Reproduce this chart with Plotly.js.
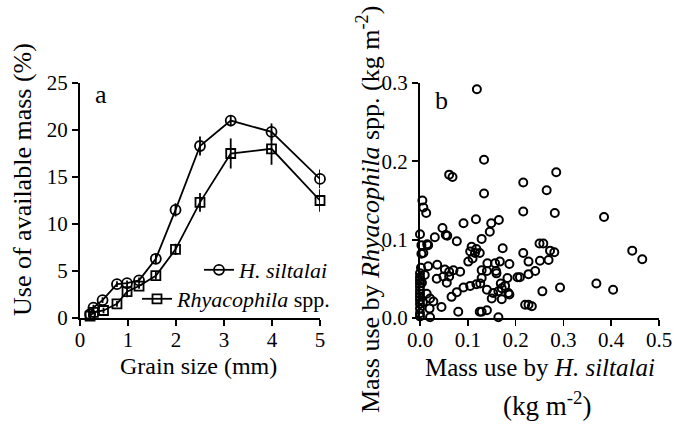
<!DOCTYPE html>
<html>
<head>
<meta charset="utf-8">
<script src="https://cdn.plot.ly/plotly-3.0.1.min.js"></script>
<style>html,body{margin:0;padding:0;background:#fff;}#chart{width:690px;height:425px;}</style>
</head>
<body>
<div id="chart"></div>
<script>
// Panel a: use of available mass (%) vs grain size (mm)
const grainH = [0.21, 0.28, 0.47, 0.77, 0.98, 1.23, 1.58, 1.99, 2.50, 3.14, 3.99, 5.00];
const useH   = [0.4, 1.1, 1.9, 3.6, 3.7, 4.0, 6.3, 11.5, 18.3, 21.0, 19.8, 14.8];
const errH   = [0.3, 0.3, 0.3, 0.3, 0.3, 0.3, 0.5, 0.7, 1.0, 0.6, 0.9, 1.0];
const grainR = [0.21, 0.28, 0.49, 0.77, 0.98, 1.23, 1.58, 1.99, 2.50, 3.14, 3.99, 5.00];
const useR   = [0.2, 0.6, 0.8, 1.5, 2.8, 3.4, 4.5, 7.3, 12.3, 17.5, 18.0, 12.5];
const errR   = [0.2, 0.2, 0.3, 0.3, 0.6, 0.3, 0.4, 0.6, 1.0, 1.6, 1.7, 1.2];

// Panel b: mass use by H. siltalai (x) vs by Rhyacophila spp. (y), kg m-2
const massH = [
  0.119,0.134,0.061,0.068,0.134,0.216,0.285,0.265,0.005,0.007,0.013,0.216,0.282,0.385,0.091,0.117,0.149,0.165,0.047,0.054,0.000,0.146,0.031,0.015,0.007,0.077,0.129,0.003,0.017,0.057,
  0.108,0.105,0.115,0.110,0.101,0.118,0.125,0.129,
  0.173,0.216,0.250,0.258,0.272,0.281,0.444,0.465,0.167,0.187,0.227,0.251,0.269,0.241,0.227,0.204,0.209,0.183,0.141,0.157,0.140,0.159,0.160,0.129,0.126,0.169,0.178,0.171,0.164,0.153,0.150,0.185,0.140,0.187,0.171,0.256,0.293,0.369,0.404,0.220,0.227,0.234,0.140,0.129,0.164,
  0.017,0.036,0.052,0.061,0.070,0.084,0.049,0.061,0.035,0.056,0.118,0.105,0.091,0.077,0.066,0.014,0.021,0.028,0.020,0.021,0.045,0.080,0.125,
  0.000,0.000,0.000,0.000,0.000,0.000,0.000,0.000,0.000,0.000,0.000,0.000,0.000,0.002,0.004,0.006,0.003,0.010
];
const massR = [
  0.292,0.202,0.183,0.180,0.159,0.173,0.186,0.163,0.150,0.141,0.134,0.136,0.134,0.129,0.121,0.126,0.121,0.125,0.115,0.106,0.107,0.110,0.103,0.094,0.083,0.098,0.101,0.093,0.093,0.105,
  0.091,0.085,0.083,0.076,0.072,0.088,0.083,0.061,
  0.089,0.083,0.095,0.095,0.086,0.084,0.086,0.075,0.072,0.069,0.072,0.073,0.074,0.060,0.056,0.052,0.052,0.051,0.070,0.070,0.060,0.060,0.057,0.051,0.044,0.044,0.041,0.038,0.034,0.032,0.025,0.032,0.036,0.030,0.024,0.034,0.039,0.044,0.036,0.017,0.017,0.015,0.010,0.008,0.001,
  0.066,0.068,0.062,0.059,0.061,0.059,0.053,0.053,0.050,0.045,0.043,0.041,0.039,0.033,0.027,0.031,0.025,0.021,0.012,0.001,0.014,0.008,0.008,
  0.057,0.052,0.048,0.044,0.040,0.035,0.031,0.027,0.023,0.018,0.012,0.006,0.002,0.064,0.045,0.020,0.082,0.055
];

const serif = "'Liberation Serif', 'Times New Roman', serif";
const W = 690, H = 425;
const px = v => v / W;
const py = v => 1 - v / H;

const traces = [
  {
    x: grainH, y: useH, type: 'scatter', mode: 'lines+markers',
    name: '<i>H. siltalai</i>', legend: 'legend',
    line: {color: '#000', width: 1.8},
    marker: {symbol: 'circle-open', size: 10, color: '#000', line: {width: 1.8}},
    error_y: {type: 'data', array: errH, visible: true, color: '#000', thickness: 1.8, width: 0},
    xaxis: 'x', yaxis: 'y', cliponaxis: false
  },
  {
    x: grainR, y: useR, type: 'scatter', mode: 'lines+markers',
    name: '<i>Rhyacophila</i> spp.', legend: 'legend2',
    line: {color: '#000', width: 1.8},
    marker: {symbol: 'square-open', size: 9, color: '#000', line: {width: 1.8}},
    error_y: {type: 'data', array: errR, visible: true, color: '#000', thickness: 1.8, width: 0},
    xaxis: 'x', yaxis: 'y', cliponaxis: false
  },
  {
    x: massH, y: massR, type: 'scatter', mode: 'markers', showlegend: false,
    marker: {symbol: 'circle-open', size: 8, color: '#000', line: {width: 2}},
    xaxis: 'x2', yaxis: 'y2', cliponaxis: false
  }
];

const axBase = {
  showline: true, linecolor: '#000', linewidth: 2,
  ticks: 'outside', ticklen: 6, tickwidth: 1.8, tickcolor: '#000',
  showgrid: false, zeroline: false, fixedrange: true,
  tickfont: {family: serif, size: 21, color: '#000'}
};

const yDom = [py(318), py(83)];

function ann(text, x, y, size, extra) {
  return Object.assign({
    text: text, x: px(x), y: py(y), xref: 'paper', yref: 'paper',
    xanchor: 'center', yanchor: 'middle', showarrow: false,
    font: {family: serif, size: size, color: '#000'}
  }, extra || {});
}

const layout = {
  width: W, height: H,
  margin: {l: 0, r: 0, t: 0, b: 0},
  paper_bgcolor: '#fff', plot_bgcolor: 'rgba(0,0,0,0)',
  font: {family: serif, color: '#000', size: 20},
  xaxis: Object.assign({}, axBase, {domain: [px(80), px(320)], range: [0, 5], dtick: 1, anchor: 'y', ticklabelstandoff: -4}),
  yaxis: Object.assign({}, axBase, {domain: yDom, range: [0, 25], dtick: 5, anchor: 'x'}),
  xaxis2: Object.assign({}, axBase, {domain: [px(420), px(659)], range: [0, 0.5], dtick: 0.1, tickformat: '.1f', anchor: 'y2', ticklabelstandoff: -4}),
  yaxis2: Object.assign({}, axBase, {domain: yDom, range: [0, 0.3], dtick: 0.1, tickformat: '.1f', anchor: 'x2'}),
  legend: {
    x: px(334), y: py(270), xanchor: 'right', yanchor: 'middle',
    bgcolor: 'rgba(0,0,0,0)', borderwidth: 0,
    font: {family: serif, size: 22, color: '#000'}, itemwidth: 30
  },
  legend2: {
    x: px(336), y: py(299), xanchor: 'right', yanchor: 'middle',
    bgcolor: 'rgba(0,0,0,0)', borderwidth: 0,
    font: {family: serif, size: 22, color: '#000'}, itemwidth: 30
  },
  showlegend: true,
  annotations: [
    ann('a', 101, 95, 26),
    ann('b', 441, 100, 26),
    ann('Grain size (mm)', 198, 366, 24),
    ann('Use of available mass (%)', 22, 180, 26, {textangle: -90}),
    ann('Mass use by <i>Rhyacophila</i> spp. (kg m<sup>-2</sup>)', 368, 210, 26, {textangle: -90}),
    ann('Mass use by <i>H. siltalai</i>', 540, 367, 25),
    ann('(kg m<sup>-2</sup>)', 547, 404, 27)
  ]
};

Plotly.newPlot('chart', traces, layout, {displayModeBar: false, staticPlot: true});
</script>
</body>
</html>
